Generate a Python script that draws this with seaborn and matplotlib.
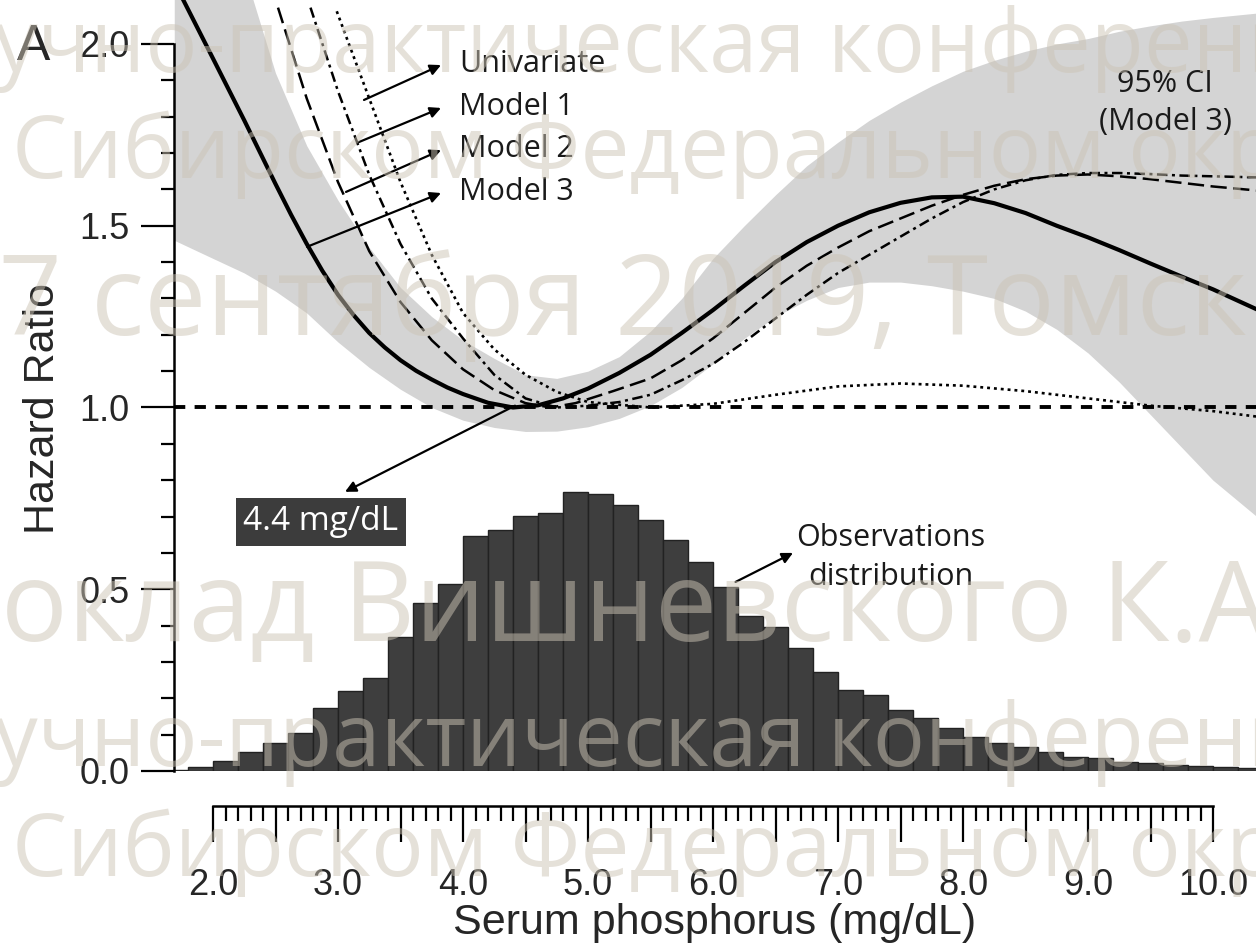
import numpy as np
import pandas as pd
import seaborn as sns
import matplotlib.pyplot as plt
from matplotlib.ticker import FixedLocator, FuncFormatter

# histogram of serum phosphorus (bin left edges, 0.2 mg/dL wide)
bin_left = np.round(np.arange(1.6, 10.3, 0.2), 1)
obs_dist = [0.004, 0.012, 0.027, 0.053, 0.076, 0.104, 0.172, 0.220, 0.255, 0.370,
            0.463, 0.514, 0.647, 0.663, 0.701, 0.710, 0.768, 0.763, 0.732, 0.690,
            0.636, 0.576, 0.505, 0.427, 0.397, 0.338, 0.273, 0.223, 0.209, 0.168,
            0.145, 0.117, 0.094, 0.076, 0.067, 0.053, 0.039, 0.035, 0.026, 0.021,
            0.017, 0.014, 0.011, 0.008]

# 95% CI of model 3
ci_x = [1.69, 2.0, 2.25, 2.5, 2.75, 3.0, 3.25, 3.5, 3.75, 4.0, 4.25, 4.5, 4.75, 5.0,
        5.25, 5.5, 5.75, 6.0, 6.25, 6.5, 6.75, 7.0, 7.25, 7.5, 7.75, 8.0, 8.25, 8.5,
        8.75, 9.0, 9.25, 9.5, 9.75, 10.0, 10.35]
ci_hi = [2.75, 2.45, 2.20, 1.92, 1.72, 1.57, 1.44, 1.33, 1.25, 1.185, 1.135, 1.09, 1.08, 1.10,
         1.14, 1.21, 1.30, 1.41, 1.50, 1.585, 1.665, 1.73, 1.79, 1.84, 1.885, 1.925, 1.955, 1.98,
         2.0, 2.015, 2.035, 2.05, 2.063, 2.073, 2.085]
ci_lo = [1.46, 1.41, 1.37, 1.32, 1.26, 1.18, 1.11, 1.05, 1.0, 0.965, 0.945, 0.934, 0.935, 0.947,
         0.97, 1.005, 1.055, 1.12, 1.19, 1.25, 1.295, 1.33, 1.345, 1.345, 1.335, 1.32, 1.30, 1.265,
         1.215, 1.15, 1.07, 0.98, 0.89, 0.80, 0.70]

# hazard ratio curves
m3_x = [1.69, 2.0, 2.25, 2.5, 2.625, 2.75, 2.875, 3.0, 3.125, 3.25, 3.375, 3.5, 3.625, 3.75,
        3.875, 4.0, 4.2, 4.4, 4.6, 4.8, 5.0, 5.25, 5.5, 5.75, 6.0, 6.25, 6.5, 6.75, 7.0, 7.25,
        7.5, 7.75, 8.0, 8.25, 8.5, 8.75, 9.0, 9.25, 9.5, 9.75, 10.0, 10.35]
m3_y = [2.17, 1.96, 1.79, 1.615, 1.53, 1.45, 1.376, 1.31, 1.254, 1.205, 1.165, 1.13, 1.101,
        1.077, 1.055, 1.037, 1.013, 1.0, 1.006, 1.025, 1.052, 1.095, 1.145, 1.205, 1.268, 1.335,
        1.40, 1.455, 1.50, 1.537, 1.563, 1.578, 1.580, 1.562, 1.535, 1.50, 1.468, 1.433, 1.396,
        1.36, 1.325, 1.27]

m2_x = [2.52, 2.75, 3.0, 3.25, 3.5, 3.75, 4.0, 4.25, 4.5, 4.7, 4.9, 5.2, 5.5, 5.75, 6.0, 6.25,
        6.5, 6.75, 7.0, 7.25, 7.5, 7.75, 8.0, 8.25, 8.5, 8.75, 9.0, 9.25, 9.5, 9.75, 10.0, 10.35]
m2_y = [2.10, 1.85, 1.62, 1.43, 1.29, 1.185, 1.105, 1.048, 1.012, 1.0, 1.012, 1.045, 1.08, 1.13,
        1.19, 1.26, 1.33, 1.39, 1.44, 1.485, 1.52, 1.555, 1.585, 1.61, 1.628, 1.638, 1.641,
        1.636, 1.628, 1.618, 1.608, 1.597]

m1_x = [2.78, 3.0, 3.25, 3.5, 3.75, 4.0, 4.25, 4.5, 4.75, 5.0, 5.25, 5.5, 5.75, 6.0, 6.25, 6.5,
        6.75, 7.0, 7.25, 7.5, 7.75, 8.0, 8.25, 8.5, 8.75, 9.0, 9.25, 9.5, 9.75, 10.0, 10.35]
m1_y = [2.10, 1.87, 1.64, 1.45, 1.30, 1.19, 1.09, 1.025, 1.0, 1.005, 1.015, 1.035, 1.075, 1.12,
        1.18, 1.245, 1.31, 1.37, 1.42, 1.47, 1.52, 1.565, 1.60, 1.625, 1.64, 1.645, 1.645, 1.642,
        1.638, 1.636, 1.633]

uni_x = [2.99, 3.25, 3.5, 3.75, 4.0, 4.25, 4.5, 4.75, 5.0, 5.5, 6.0, 6.5, 7.0, 7.5, 8.0,
         8.5, 9.0, 9.5, 10.0, 10.35]
uni_y = [2.09, 1.85, 1.62, 1.42, 1.26, 1.16, 1.09, 1.043, 1.015, 1.0, 1.01, 1.035, 1.058,
         1.066, 1.06, 1.045, 1.025, 1.005, 0.99, 0.975]

watermark = [
    ("Научно-практическая конференция в", -118, 72, 62.5),
    ("Сибирском Федеральном округе", 12, 178, 63),
    ("27 сентября 2019, Томск", -65, 335, 80),
    ("Доклад Вишневского К.А.", -75, 641, 80),
    ("Научно-практическая конференция в", -118, 766, 62.5),
    ("Сибирском Федеральном округе", 12, 876, 63),
]

sns.set_theme(style='ticks')
plt.rcParams['font.family'] = ['Liberation Sans', 'DejaVu Sans']

W, H = 1256, 948
fig = plt.figure(figsize=(W / 100, H / 100), dpi=100)
ax = fig.add_axes([174 / W, (H - 771) / H, 1 - 174 / W, 771 / H])

ax.fill_between(ci_x, ci_lo, ci_hi, color='#d4d4d4', lw=0, zorder=0.5)

hist_df = pd.DataFrame({'phos': bin_left + 0.1, 'share': obs_dist})
edges = [round(b, 1) for b in bin_left] + [10.4]
sns.histplot(data=hist_df, x='phos', weights='share', bins=edges,
             stat='count', color='#3e3e3e', edgecolor='#222222', linewidth=1.0,
             alpha=1, ax=ax, zorder=1)

ax.axhline(1.0, color='black', lw=2.8, linestyle=(0, (2.9, 2.4)), zorder=3)

sns.lineplot(x=m3_x, y=m3_y, color='black', lw=3.0, ax=ax, zorder=4)
sns.lineplot(x=m2_x, y=m2_y, color='black', lw=1.8, linestyle=(0, (6.5, 2.6)), ax=ax, zorder=4)
sns.lineplot(x=m1_x, y=m1_y, color='black', lw=1.8, linestyle=(0, (4.2, 1.8, 1.2, 1.8)), ax=ax, zorder=4)
sns.lineplot(x=uni_x, y=uni_y, color='black', lw=1.9, linestyle=(0, (1.1, 1.5)), ax=ax, zorder=4)

ax.set_xlim(1.688, 10.344)
ax.set_ylim(0, 2.121)

for s in ['top', 'right']:
    ax.spines[s].set_visible(False)
ax.spines['left'].set_bounds(0, 2)
ax.spines['left'].set_linewidth(1.8)
ax.spines['left'].set_color('black')
ax.spines['bottom'].set_position(('outward', 25))
ax.spines['bottom'].set_bounds(2, 10)
ax.spines['bottom'].set_linewidth(1.8)
ax.spines['bottom'].set_color('black')

ax.xaxis.set_major_locator(FixedLocator(np.arange(2.0, 10.01, 0.5)))
ax.xaxis.set_minor_locator(FixedLocator(np.arange(2.0, 10.01, 0.1)))
ax.xaxis.set_major_formatter(FuncFormatter(lambda v, p: f'{v:.1f}' if abs(v - round(v)) < 1e-6 else ''))
ax.yaxis.set_major_locator(FixedLocator(np.arange(0, 2.01, 0.5)))
ax.yaxis.set_minor_locator(FixedLocator(np.arange(0, 2.01, 0.1)))
ax.yaxis.set_major_formatter(FuncFormatter(lambda v, p: f'{v:.1f}'))

ax.tick_params(axis='x', which='major', direction='out', length=26, width=1.6,
               labelsize=26, pad=19, color='black')
ax.tick_params(axis='x', which='minor', direction='out', length=10.5, width=1.6, color='black')
ax.tick_params(axis='y', which='major', direction='out', length=24, width=1.6,
               labelsize=26, pad=8, color='black')
ax.tick_params(axis='y', which='minor', direction='out', length=9.5, width=1.6, color='black')

ax.set_xlabel('Serum phosphorus (mg/dL)', fontsize=31, labelpad=0)
ax.set_ylabel('Hazard Ratio', fontsize=31)
ax.yaxis.set_label_coords(-0.103, 0.47)

fig.text(17 / W, 1 - 60 / H, 'A', fontsize=36, ha='left', va='baseline')

# legend-like annotations
ann_font = dict(family='Open Sans', fontsize=22)
arrow = dict(arrowstyle='-|>', color='black', lw=1.6, mutation_scale=16, shrinkA=0, shrinkB=0)
labels = ['Univariate', 'Model 1', 'Model 2', 'Model 3']
starts = [(3.208, 1.846), (3.152, 1.728), (3.064, 1.593), (2.752, 1.442)]
ends = [(3.824, 1.942), (3.824, 1.824), (3.824, 1.708), (3.824, 1.590)]
for lab, s, e in zip(labels, starts, ends):
    ax.annotate('', xy=e, xytext=s, arrowprops=arrow, zorder=6)
    ax.text(3.97, e[1] + 0.004, lab, ha='left', va='center', color='#1a1a1a', zorder=6, **ann_font)

ax.text(9.616, 1.838, '95% CI\n(Model 3)', ha='center', va='center', linespacing=1.38,
        color='#1a1a1a', zorder=6, **ann_font)
ax.text(7.42, 0.587, 'Observations\ndistribution', ha='center', va='center', linespacing=1.42,
        color='#1a1a1a', zorder=6, **ann_font)
ax.annotate('', xy=(6.64, 0.60), xytext=(6.18, 0.52), arrowprops=arrow, zorder=6)

ax.annotate('', xy=(3.056, 0.768), xytext=(4.416, 1.005), arrowprops=arrow, zorder=6)
ax.text(2.864, 0.685, '4.4 mg/dL', ha='center', va='center', color='white', zorder=6,
        family='Open Sans', fontsize=24,
        bbox=dict(boxstyle='square,pad=0.22', fc='#3c3c3c', ec='none'))

# faint watermark over the figure
for txt, x0, yb, fs in watermark:
    fig.text(x0 / W, 1 - yb / H, txt, fontsize=fs, family='Open Sans', color=(0.80, 0.77, 0.71),
             alpha=0.5, ha='left', va='baseline', zorder=10)

fig.savefig('out.png', dpi=100)
